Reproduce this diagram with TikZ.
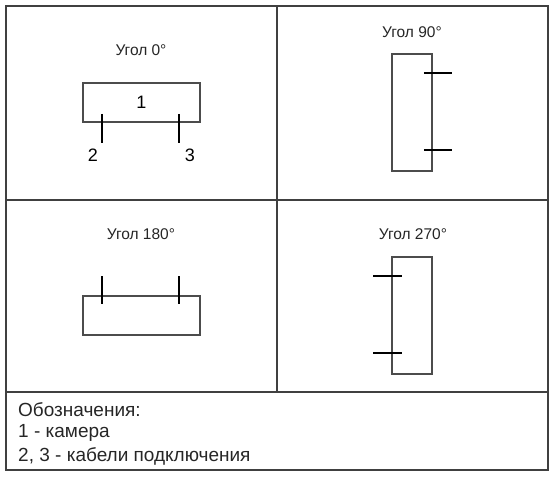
\documentclass[tikz,border=0pt]{standalone}
\usepackage{fontspec}
\setmainfont{Liberation Sans}
\usetikzlibrary{calc}

\begin{document}
\begin{tikzpicture}[x=1pt, y=-1pt,
  grid/.style={draw=black!75, line width=1.1pt},
  camwide/.style={draw=black!70, line width=1.8pt, minimum width=117pt, minimum height=39pt, inner sep=0pt, font=\fontsize{18}{20}\selectfont},
  camtall/.style={draw=black!70, line width=1.8pt, minimum width=40pt, minimum height=117pt, inner sep=0pt},
  cable/.style={draw=black, line width=2.2pt},
  title/.style={font=\fontsize{15.5}{17}\selectfont, text=black!85},
  lbl/.style={font=\fontsize{18}{20}\selectfont, inner sep=0pt},
  legend/.style={font=\fontsize{19}{21}\selectfont, anchor=west, inner sep=0pt, text=black!85}]
\useasboundingbox (0,0) rectangle (556,477);
% table frame
\draw[grid] (6,6) rectangle (548,470);
\draw[grid] (277,6) -- (277,392);
\draw[grid] (6,200) -- (548,200);
\draw[grid] (6,392) -- (548,392);

% angle 0
\node[title] (t0) at (141,50) {Угол 0°};
\node[camwide] (cam0) at (141.5,102.5) {1};
\draw[cable] ($(cam0.south west)+(20,-9)$) -- ++(0,29) coordinate (c2);
\draw[cable] ($(cam0.south west)+(97,-9)$) -- ++(0,29) coordinate (c3);
\node[lbl] (l2) at (93,155) {2};
\node[lbl] (l3) at (190,155) {3};

% angle 90
\node[title] (t90) at (412,32) {Угол 90°};
\node[camtall] (cam90) at (412,112.5) {};
\draw[cable] ($(cam90.north east)+(-9,20)$) -- ++(28,0);
\draw[cable] ($(cam90.north east)+(-9,97)$) -- ++(28,0);

% angle 180
\node[title] (t180) at (141,234) {Угол 180°};
\node[camwide] (cam180) at (141.5,315.5) {};
\draw[cable] ($(cam180.north west)+(20,-19)$) -- ++(0,28);
\draw[cable] ($(cam180.north west)+(97,-19)$) -- ++(0,28);

% angle 270
\node[title] (t270) at (413,234) {Угол 270°};
\node[camtall] (cam270) at (412,315.5) {};
\draw[cable] ($(cam270.north west)+(-18,20)$) -- ++(29,0);
\draw[cable] ($(cam270.north west)+(-18,97)$) -- ++(29,0);

% legend
\node[legend] (key) at (18,410) {Обозначения:};
\node[legend] (key1) at (18,433) {1 - камера};
\node[legend] (key2) at (18,456) {2, 3 - кабели подключения};
\end{tikzpicture}
\end{document}
